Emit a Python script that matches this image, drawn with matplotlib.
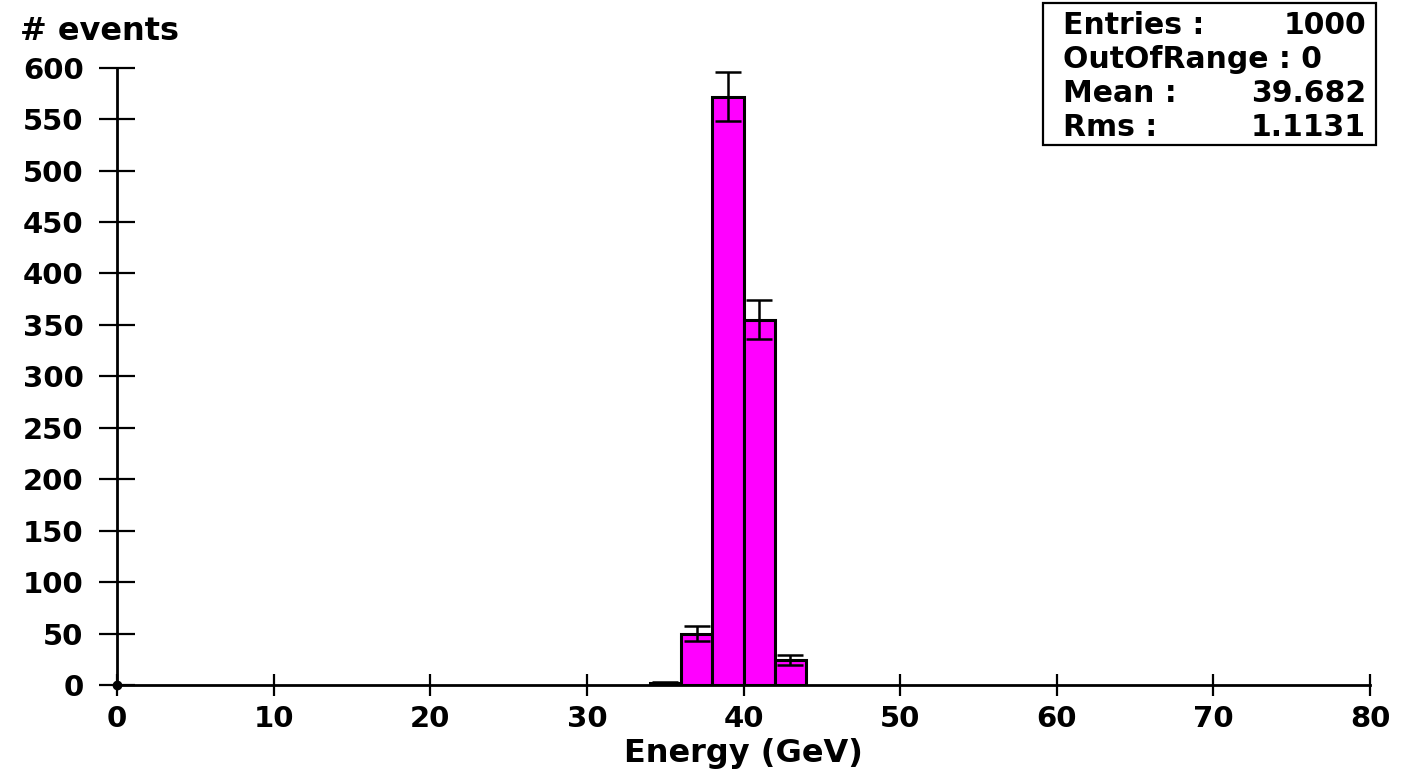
import matplotlib
matplotlib.use("Agg")
import matplotlib.pyplot as plt
from matplotlib.patches import Rectangle

# ---- data ----
bin_edges = [34, 36, 38, 40, 42, 44]
counts = [2, 50, 572, 355, 24]
errors = [1.4, 7, 24, 19, 5]
x_ticks = [0, 10, 20, 30, 40, 50, 60, 70, 80]
y_ticks = [0, 50, 100, 150, 200, 250, 300, 350, 400, 450, 500, 550, 600]
stat_labels = ["Entries :", "OutOfRange : 0", "Mean :", "Rms :"]
stat_values = ["1000", "", "39.682", "1.1131"]

plt.rcParams['font.family'] = ['DejaVu Sans']
plt.rcParams['font.weight'] = 'bold'

W, H = 1406, 769
fig = plt.figure(figsize=(W / 100, H / 100), dpi=100)
ax = fig.add_axes([117 / W, 1 - 685 / H, (1370 - 117) / W, (685 - 67.7) / H])

lefts = bin_edges[:-1]
widths = [b - a for a, b in zip(bin_edges[:-1], bin_edges[1:])]
centers = [a + w / 2 for a, w in zip(lefts, widths)]

ax.bar(lefts, counts, width=widths, align='edge', color='#ff00ff',
       edgecolor='black', linewidth=2.2, zorder=2)
ax.errorbar(centers, counts, yerr=errors, fmt='none', ecolor='black',
            elinewidth=1.8, capsize=9.5, capthick=1.8, zorder=3)

ax.set_xlim(0, 80)
ax.set_ylim(0, 600)
ax.set_xticks(x_ticks)
ax.set_yticks(y_ticks)

for s in ['top', 'right']:
    ax.spines[s].set_visible(False)
for s in ['left', 'bottom']:
    ax.spines[s].set_linewidth(2.0)

ax.tick_params(axis='x', direction='inout', length=16.5, width=1.6,
               labelsize=21, pad=6)
ax.tick_params(axis='y', direction='inout', length=26, width=1.6,
               labelsize=21, pad=11)
for lab in ax.get_xticklabels() + ax.get_yticklabels():
    lab.set_fontweight('bold')

# origin dot
ax.plot([0], [0], marker='o', markersize=6, color='black',
        transform=ax.transAxes, clip_on=False, zorder=5)

ax.set_xlabel("Energy (GeV)", fontsize=23, fontweight='bold', labelpad=4)
fig.text(20 / W, 1 - 31 / H, "# events", fontsize=23, fontweight='bold',
         ha='left', va='center')

# stats box
fig.patches.append(Rectangle((1043 / W, 1 - 145 / H), (1376 - 1043) / W,
                             (145 - 3) / H, transform=fig.transFigure,
                             facecolor='white', edgecolor='black',
                             linewidth=1.6))
line_y = [25, 59, 93, 128]
for lab, val, yy in zip(stat_labels, stat_values, line_y):
    fig.text(1063 / W, 1 - yy / H, lab, fontsize=21.5, fontweight='bold',
             ha='left', va='center')
    if val:
        fig.text(1366 / W, 1 - yy / H, val, fontsize=21.5, fontweight='bold',
                 ha='right', va='center')

fig.savefig("out.png", dpi=100)
